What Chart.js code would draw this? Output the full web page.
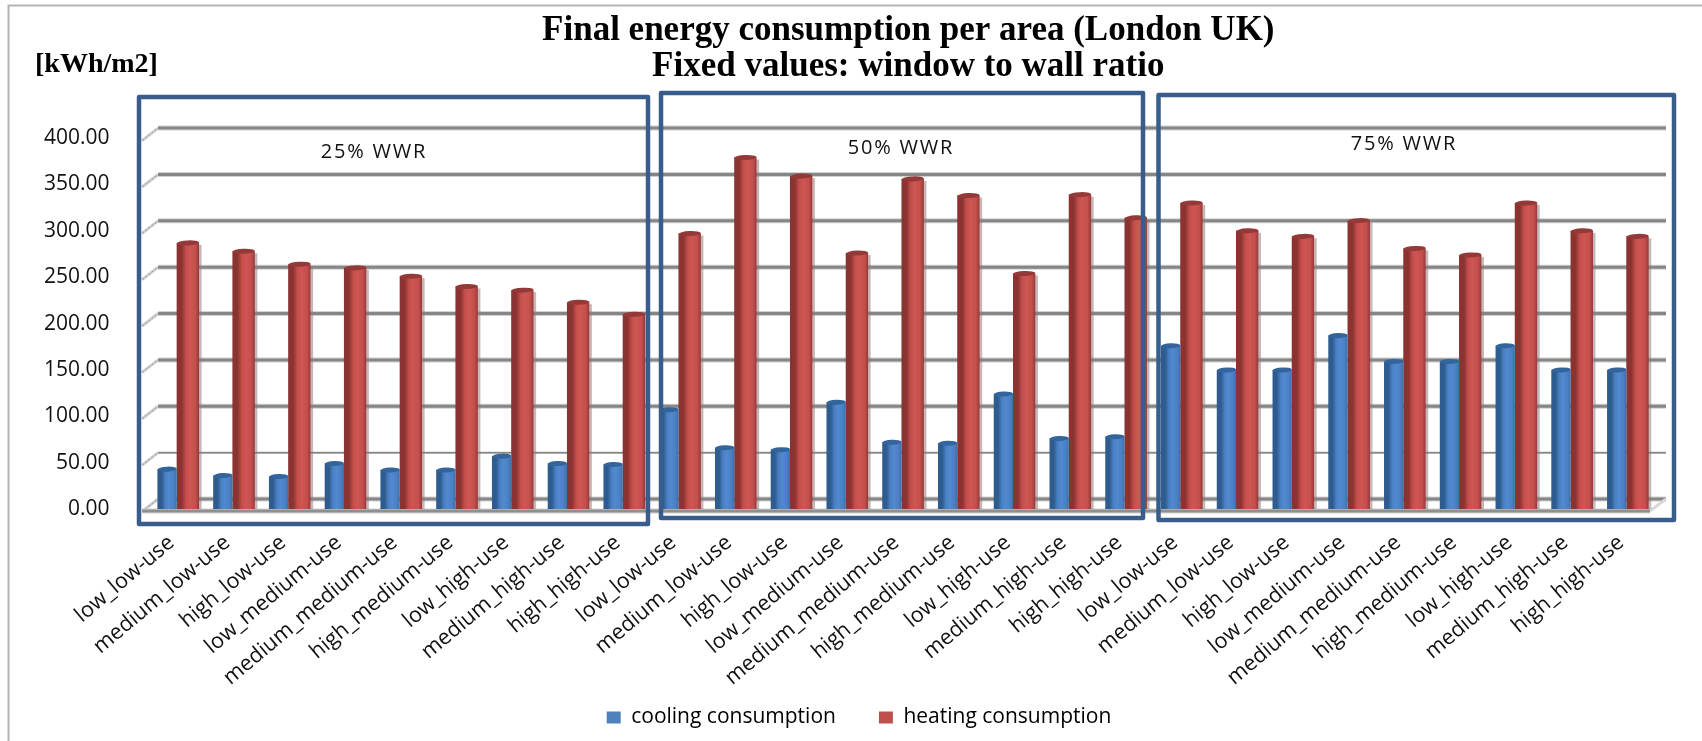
<!DOCTYPE html>
<html>
<head>
<meta charset="utf-8">
<title>Final energy consumption per area</title>
<script src="https://cdn.jsdelivr.net/npm/chart.js@4"></script>
<style>
  html, body { margin: 0; padding: 0; background: #fff; }
  canvas { display: block; }
</style>
</head>
<body>
<canvas id="chart" width="1702" height="741"></canvas>
<script>
const useCases = [
  'low_low-use', 'medium_low-use', 'high_low-use',
  'low_medium-use', 'medium_medium-use', 'high_medium-use',
  'low_high-use', 'medium_high-use', 'high_high-use',
];
const categories = [...useCases, ...useCases, ...useCases];

const cooling = [
  43, 36, 35, 49, 42, 42, 57, 49, 48,
  107, 66, 64, 115, 72, 71, 124, 76, 78,
  176, 150, 150, 187, 159, 159, 176, 150, 150,
];
const heating = [
  287, 278, 264, 260, 251, 240, 236, 223, 210,
  297, 379, 359, 276, 356, 338, 254, 339, 314,
  330, 300, 294, 311, 281, 274, 330, 300, 294,
];
const titleLines = ['Final energy consumption per area (London UK)', 'Fixed values: window to wall ratio'];
const yUnit = '[kWh/m2]';
const yMax = 400;
const yStep = 50;

const SANS = '"Open Sans", sans-serif';
const SERIF = '"Liberation Serif", serif';
const CATEGORY_PCT = 0.746;

// bar shading: edge, body, highlight, far edge, top cap, solid legend colour
const shades = {
  cooling: { edge: '#2f5c8f', body: '#4a80c4', light: '#5289cf', far: '#3f6fa8', cap: '#33659c', solid: '#4f81bd' },
  heating: { edge: '#8a3331', body: '#c44f4c', light: '#ce5653', far: '#93393a', cap: '#933a38', solid: '#c0504d' },
};

// callout frames around each glazing group
const groups = [
  { label: '25% WWR', left: 139, right: 648, top: 97, bottom: 524, tx: 374, ty: 152 },
  { label: '50% WWR', left: 661, right: 1143, top: 93, bottom: 518, tx: 901, ty: 148 },
  { label: '75% WWR', left: 1158.5, right: 1674, top: 95, bottom: 520, tx: 1404, ty: 144 },
];

function barGradient(ctx, key, sign, pct) {
  const chart = ctx.chart;
  const xScale = chart.scales.x;
  const s = shades[key];
  if (ctx.type !== 'data' || !xScale) return s.solid;
  const slot = (xScale.width / categories.length) * CATEGORY_PCT / 2;
  const cx = xScale.getPixelForTick(ctx.dataIndex) + sign * slot / 2;
  const w = slot * pct;
  const g = chart.ctx.createLinearGradient(cx - w / 2, 0, cx + w / 2, 0);
  g.addColorStop(0, s.edge);
  g.addColorStop(0.22, s.edge);
  g.addColorStop(0.42, s.body);
  g.addColorStop(0.6, s.light);
  g.addColorStop(0.84, s.body);
  g.addColorStop(1, s.far);
  return g;
}

// 3D look: back wall gridlines, side wall, floor
const wallPlugin = {
  id: 'wall',
  afterLayout(chart) {
    // tick labels reach past their boxes, so open up the label clip
    chart.scales.y.left = 0;
    chart.scales.x.bottom = chart.height;
    chart.legend.top -= 3;
    chart.legend.bottom -= 3;
    chart.titleBlock.left += 6;
    chart.titleBlock.right += 6;
  },
  beforeDatasetsDraw(chart) {
    const { ctx, chartArea: area, scales: { y } } = chart;
    const backL = area.left + 8.5, backR = area.right + 11;
    const frontL = area.left - 7.5, frontR = area.right - 5;
    ctx.save();
    for (let v = 0; v <= yMax; v += yStep) {
      const py = y.getPixelForValue(v);
      const by = py - 10;
      // side wall stub
      ctx.strokeStyle = '#cfcfcf';
      ctx.lineWidth = 3;
      ctx.beginPath(); ctx.moveTo(frontL, py + 2.5); ctx.lineTo(backL, by); ctx.stroke();
      ctx.strokeStyle = '#9a9a9a';
      ctx.lineWidth = 1;
      ctx.setLineDash([2, 2]);
      ctx.beginPath(); ctx.moveTo(frontL, py + 2.5); ctx.lineTo(backL, by); ctx.stroke();
      ctx.setLineDash([]);
      // back wall line
      const thin = v === yStep;
      ctx.strokeStyle = '#d2d2d2';
      ctx.lineWidth = thin ? 2.5 : 5;
      ctx.beginPath(); ctx.moveTo(backL, by); ctx.lineTo(backR, by); ctx.stroke();
      ctx.strokeStyle = '#868686';
      ctx.lineWidth = thin ? 1.5 : 3;
      ctx.beginPath(); ctx.moveTo(backL, by); ctx.lineTo(backR, by); ctx.stroke();
    }
    // floor
    const base = y.getPixelForValue(0);
    ctx.strokeStyle = '#d8d8d8';
    ctx.lineWidth = 3;
    ctx.beginPath(); ctx.moveTo(frontR, base + 2); ctx.lineTo(backR, base - 10); ctx.stroke();
    ctx.strokeStyle = '#d2d2d2';
    ctx.lineWidth = 5;
    ctx.beginPath(); ctx.moveTo(frontL, base + 2); ctx.lineTo(frontR, base + 2); ctx.stroke();
    ctx.strokeStyle = '#8f8f8f';
    ctx.lineWidth = 3;
    ctx.beginPath(); ctx.moveTo(frontL, base + 2); ctx.lineTo(frontR, base + 2); ctx.stroke();
    ctx.restore();
  },
  beforeDatasetDraw(chart, args) {
    // soft shadow down the right side of the front columns
    if (chart.data.datasets[args.index].shade !== 'heating') return;
    const { ctx } = chart;
    ctx.save();
    ctx.fillStyle = 'rgba(150,125,125,0.55)';
    for (const bar of chart.getDatasetMeta(args.index).data) {
      ctx.fillRect(bar.x + bar.width / 2, bar.y + 2, 2.5, bar.base - bar.y - 2);
    }
    ctx.restore();
  },
  afterDatasetDraw(chart, args) {
    // rounded top of each column
    const { ctx } = chart;
    const ds = chart.data.datasets[args.index];
    ctx.save();
    ctx.fillStyle = shades[ds.shade].cap;
    for (const bar of chart.getDatasetMeta(args.index).data) {
      ctx.beginPath();
      ctx.ellipse(bar.x, bar.y, bar.width / 2, 2.5, -0.04, 0, Math.PI * 2);
      ctx.fill();
    }
    ctx.restore();
  },
};

// outer chart border, unit label and group frames
const overlayPlugin = {
  id: 'overlay',
  afterDraw(chart) {
    const { ctx } = chart;
    ctx.save();
    ctx.strokeStyle = '#b4b4b4';
    ctx.lineWidth = 2;
    ctx.beginPath(); ctx.moveTo(8.5, 741); ctx.lineTo(8.5, 5.5); ctx.lineTo(1702, 5.5); ctx.stroke();

    ctx.fillStyle = '#000';
    ctx.font = 'bold 28px ' + SERIF;
    ctx.textAlign = 'left';
    ctx.textBaseline = 'middle';
    ctx.fillText(yUnit, 35, 65);

    for (const g of groups) {
      ctx.strokeStyle = '#385d8a';
      ctx.lineWidth = 4.5;
      ctx.lineJoin = 'round';
      ctx.strokeRect(g.left, g.top, g.right - g.left, g.bottom - g.top);
      ctx.fillStyle = '#111';
      ctx.font = '20px ' + SANS;
      ctx.letterSpacing = '1.8px';
      ctx.textAlign = 'center';
      ctx.fillText(g.label, g.tx, g.ty);
      ctx.letterSpacing = '0px';
    }
    ctx.restore();
  },
};

new Chart(document.getElementById('chart'), {
  type: 'bar',
  data: {
    labels: categories,
    datasets: [
      {
        label: 'cooling consumption',
        shade: 'cooling',
        data: cooling,
        barPercentage: 0.93,
        categoryPercentage: CATEGORY_PCT,
        backgroundColor: (c) => barGradient(c, 'cooling', -1, 0.93),
      },
      {
        label: 'heating consumption',
        shade: 'heating',
        data: heating,
        barPercentage: 1.08,
        categoryPercentage: CATEGORY_PCT,
        backgroundColor: (c) => barGradient(c, 'heating', 1, 1.08),
      },
    ],
  },
  plugins: [wallPlugin, overlayPlugin],
  options: {
    responsive: false,
    animation: false,
    layout: { autoPadding: false, padding: { left: 63, right: 47, top: 0, bottom: 0 } },
    plugins: {
      tooltip: { enabled: false },
      title: {
        display: true,
        text: titleLines,
        fullSize: false,
        color: '#000',
        font: { family: SERIF, size: 35, weight: 'bold', lineHeight: 1.03 },
        padding: { top: 13, bottom: 53 },
      },
      legend: {
        position: 'bottom',
        labels: {
          boxWidth: 14,
          boxHeight: 12,
          padding: 43,
          color: '#111',
          font: { family: SANS, size: 21 },
          generateLabels: (chart) => chart.data.datasets.map((ds, i) => ({
            text: ds.label,
            fillStyle: shades[ds.shade].solid,
            strokeStyle: shades[ds.shade].solid,
            lineWidth: 0,
            datasetIndex: i,
          })),
        },
      },
    },
    scales: {
      x: {
        grid: { display: false },
        border: { display: false },
        afterFit(scale) { scale.height = 158; },
        ticks: {
          autoSkip: false,
          maxRotation: 40,
          minRotation: 40,
          padding: 13,
          labelOffset: -6,
          color: '#111',
          font: { family: SANS, size: 21.5 },
        },
      },
      y: {
        min: 0,
        max: yMax,
        grid: { display: false },
        border: { display: false },
        afterFit(scale) { scale.width = 86.6; },
        ticks: {
          stepSize: yStep,
          padding: 32,
          color: '#111',
          font: { family: SANS, size: 21 },
          callback: (v) => v.toFixed(2),
        },
      },
    },
  },
});
</script>
</body>
</html>
